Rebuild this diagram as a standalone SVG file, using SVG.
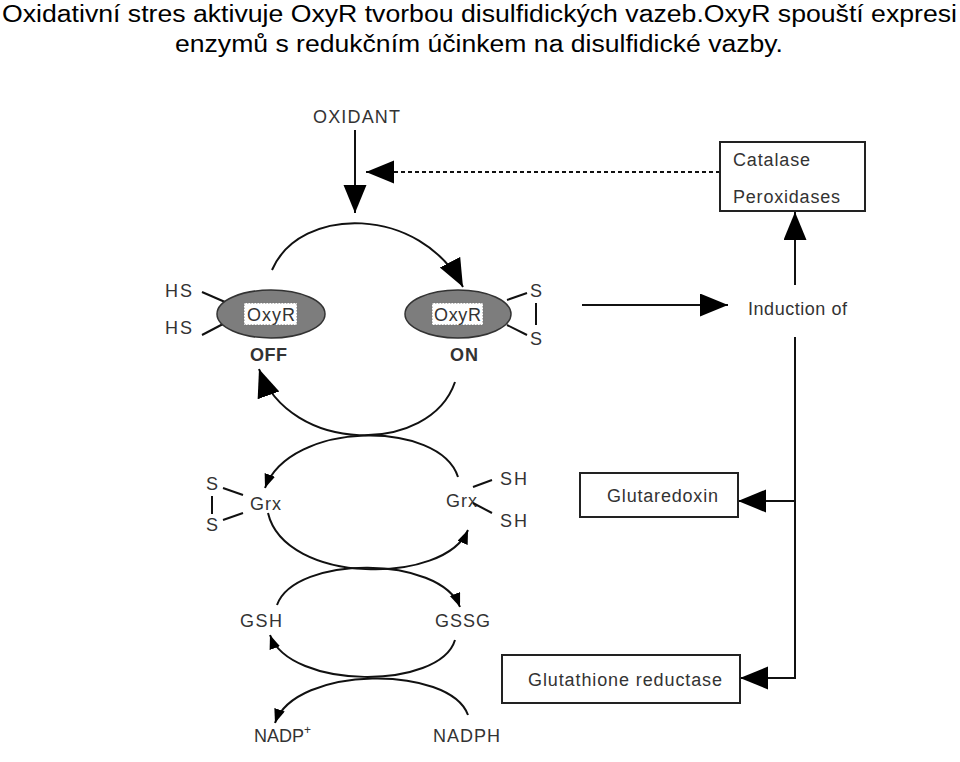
<svg xmlns="http://www.w3.org/2000/svg" width="960" height="762" viewBox="0 0 960 762">
<defs>
<style>
.t{font-family:"Liberation Sans",Arial,sans-serif;fill:#333;font-size:18px}
.title{font-family:"Liberation Sans",Arial,sans-serif;fill:#000;font-size:23px}
.ln{stroke:#111;stroke-width:2;fill:none}
.box{stroke:#222;stroke-width:2;fill:#fff}
.ell{fill:#7d7d7d;stroke:#333;stroke-width:1.5}
.lbl{fill:#fff;stroke:#777;stroke-width:1;stroke-dasharray:1.5,1.5}
</style>
<marker id="big" markerUnits="userSpaceOnUse" markerWidth="30" markerHeight="26" refX="28" refY="11.5" orient="auto">
<path d="M0,0 L28,11.5 L0,23 z" fill="#000"/>
</marker>
<marker id="sm" markerUnits="userSpaceOnUse" markerWidth="16" markerHeight="14" refX="14" refY="5.5" orient="auto">
<path d="M0,0 L14,5.5 L0,11 z" fill="#000"/>
</marker>
</defs>
<rect width="960" height="762" fill="#fff"/>
<g id="title">
<text class="title" x="2" y="22" textLength="955" lengthAdjust="spacingAndGlyphs">Oxidativní stres aktivuje OxyR tvorbou disulfidických vazeb.OxyR spouští expresi</text>
<text class="title" x="175" y="52" textLength="608" lengthAdjust="spacingAndGlyphs">enzymů s redukčním účinkem na disulfidické vazby.</text>
</g>
<g id="connectors">
<path class="ln" d="M355,130 L355,213" marker-end="url(#big)"/>
<path class="ln" d="M720,172 L366,172" stroke-dasharray="4,3" marker-end="url(#big)"/>
<path class="ln" d="M272,270 C300,205 420,205 463,287" marker-end="url(#big)"/>
<path class="ln" d="M455,382 C430,455 290,455 259,369" marker-end="url(#big)"/>
<path class="ln" d="M582,305 L728,305" marker-end="url(#big)"/>
<path class="ln" d="M795,285 L795,212" marker-end="url(#big)"/>
<path class="ln" d="M795,337 L795,678 L740,678" marker-end="url(#big)"/>
<path class="ln" d="M795,501 L738,501" marker-end="url(#big)"/>
<path class="ln" d="M458,477 C440,420 290,420 265,488" marker-end="url(#sm)"/>
<path class="ln" d="M268,513 C285,585 445,585 468,530" marker-end="url(#sm)"/>
<path class="ln" d="M277,605 C295,555 440,555 460,607" marker-end="url(#sm)"/>
<path class="ln" d="M455,640 C440,690 290,690 270,635" marker-end="url(#sm)"/>
<path class="ln" d="M468,715 C450,665 295,665 275,723" marker-end="url(#sm)"/>
</g>
<g id="oxidant"><text class="t" x="313" y="123" textLength="87">OXIDANT</text></g>
<g id="catalase">
<rect class="box" x="720" y="142" width="145" height="69"/>
<text class="t" x="733" y="166" textLength="77">Catalase</text>
<text class="t" x="733" y="203" textLength="107">Peroxidases</text>
</g>
<g id="induction"><text class="t" x="748" y="315" textLength="99">Induction of</text></g>
<g id="oxyr-off">
<line class="ln" x1="202" y1="292" x2="225" y2="302" stroke-width="1.5"/>
<line class="ln" x1="202" y1="335" x2="223" y2="324" stroke-width="1.5"/>
<ellipse class="ell" cx="271" cy="314" rx="54" ry="24"/>
<rect class="lbl" x="244" y="303" width="53" height="22"/>
<text class="t" x="247" y="321" textLength="48">OxyR</text>
<text class="t" x="165" y="297" textLength="27">HS</text>
<text class="t" x="165" y="334" textLength="27">HS</text>
<text class="t" x="250" y="361" textLength="37" font-weight="bold">OFF</text>
</g>
<g id="oxyr-on">
<line class="ln" x1="507" y1="300" x2="527" y2="293" stroke-width="1.5"/>
<line class="ln" x1="507" y1="325" x2="527" y2="335" stroke-width="1.5"/>
<line class="ln" x1="536" y1="303" x2="536" y2="325" stroke-width="1.5"/>
<ellipse class="ell" cx="458" cy="314" rx="53" ry="24"/>
<rect class="lbl" x="432" y="303" width="51" height="22"/>
<text class="t" x="434" y="321" textLength="47">OxyR</text>
<text class="t" x="530" y="297">S</text>
<text class="t" x="530" y="345">S</text>
<text class="t" x="450" y="361" textLength="28" font-weight="bold">ON</text>
</g>
<g id="grx-ox">
<text class="t" x="206" y="490">S</text>
<text class="t" x="206" y="531">S</text>
<line class="ln" x1="212" y1="496" x2="212" y2="514" stroke-width="1.5"/>
<line class="ln" x1="223" y1="488" x2="243" y2="495" stroke-width="1.5"/>
<line class="ln" x1="223" y1="520" x2="243" y2="513" stroke-width="1.5"/>
<text class="t" x="250" y="510" textLength="31">Grx</text>
</g>
<g id="grx-red">
<text class="t" x="446" y="507" textLength="31">Grx</text>
<line class="ln" x1="473" y1="487" x2="492" y2="480" stroke-width="1.5"/>
<line class="ln" x1="473" y1="503" x2="492" y2="513" stroke-width="1.5"/>
<text class="t" x="500" y="485" textLength="27">SH</text>
<text class="t" x="500" y="527" textLength="27">SH</text>
</g>
<g id="glutaredoxin">
<rect class="box" x="580" y="473" width="158" height="44"/>
<text class="t" x="607" y="502" textLength="111">Glutaredoxin</text>
</g>
<g id="gsh"><text class="t" x="240" y="627" textLength="42">GSH</text></g>
<g id="gssg"><text class="t" x="435" y="627" textLength="55">GSSG</text></g>
<g id="glutathione-reductase">
<rect class="box" x="502" y="655" width="238" height="48"/>
<text class="t" x="528" y="686" textLength="194">Glutathione reductase</text>
</g>
<g id="nadp"><text class="t" x="254" y="742">NADP<tspan font-size="12" dy="-8">+</tspan></text></g>
<g id="nadph"><text class="t" x="433" y="742" textLength="67">NADPH</text></g>
</svg>
